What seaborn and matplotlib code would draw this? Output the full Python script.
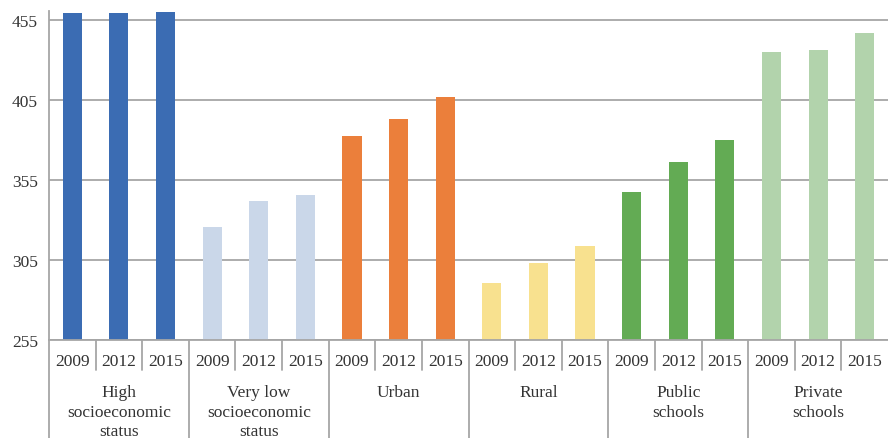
import matplotlib
matplotlib.use("Agg")
import matplotlib.pyplot as plt
import seaborn as sns
import pandas as pd

groups = ["High\nsocioeconomic\nstatus", "Very low\nsocioeconomic\nstatus", "Urban", "Rural",
          "Public\nschools", "Private\nschools"]
years = ["2009", "2012", "2015"]
high_ses = [459.5, 459.0, 460.0]
very_low_ses = [325.3, 342.0, 345.8]
urban = [382.5, 393.0, 406.7]
rural = [290.4, 302.9, 314.0]
public = [347.6, 366.3, 380.0]
private = [434.7, 436.0, 446.5]
colors = ["#3B6CB3", "#CAD7E9", "#EB7F3B", "#F8E18F", "#63AB54", "#B2D3AC"]
yticks = [255, 305, 355, 405, 455]

series = [high_ses, very_low_ses, urban, rural, public, private]
rows = []
for g, vals in zip(groups, series):
    for y, v in zip(years, vals):
        rows.append({"cat": g + "|" + y, "group": g, "year": y, "value": v})
df = pd.DataFrame(rows)

sns.set_style("white")
plt.rcParams["font.family"] = ["Liberation Serif", "DejaVu Serif"]

W, H = 888, 439
fig = plt.figure(figsize=(W / 100, H / 100), dpi=100)
ax_left, ax_right, ax_top, ax_bottom = 49, 888, 12, 341
ax = fig.add_axes([ax_left / W, 1 - ax_bottom / H, (ax_right - ax_left) / W, (ax_bottom - ax_top) / H])

sns.barplot(data=df, x="cat", y="value", hue="group", palette=colors, dodge=False,
            width=0.41, ax=ax, legend=False, saturation=1, linewidth=0, edgecolor="none")

ax.set_ylim(255, 460.5)
ax.set_xlim(-0.5, len(df) - 0.5)
ax.set_yticks(yticks)
ax.set_yticklabels([str(t) for t in yticks], fontsize=12.5, color="#333333")
ax.yaxis.grid(True, color="#A6A6A6", linewidth=1.3)
ax.set_axisbelow(True)
ax.tick_params(axis="y", length=5, color="#A6A6A6", width=1.2, pad=3)
ax.set_xticks(range(len(df)))
ax.set_xticklabels(df["year"].tolist(), fontsize=12.5, color="#333333")
ax.tick_params(axis="x", length=0, pad=9.5)
ax.set_xlabel("")
ax.set_ylabel("")
for s in ["top", "right"]:
    ax.spines[s].set_visible(False)
ax.spines["left"].set_color("#A6A6A6")
ax.spines["left"].set_linewidth(1.3)
ax.spines["bottom"].set_color("#A6A6A6")
ax.spines["bottom"].set_linewidth(1.3)

ph = ax_bottom - ax_top
tr = ax.get_xaxis_transform()
n = len(df)
for i in range(n):
    xb = i - 0.5
    if i % 3 == 0:
        y_end = -(H - ax_bottom) / ph
    else:
        y_end = -(371 - ax_bottom) / ph
    ax.plot([xb, xb], [0, y_end], transform=tr, color="#A6A6A6", linewidth=1.3, clip_on=False)

for gi, g in enumerate(groups):
    ax.text(gi * 3 + 1, -(385 - ax_bottom) / ph, g, transform=tr, ha="center", va="top",
            fontsize=12.5, color="#333333", linespacing=1.3)

fig.savefig("out.png", dpi=100)
